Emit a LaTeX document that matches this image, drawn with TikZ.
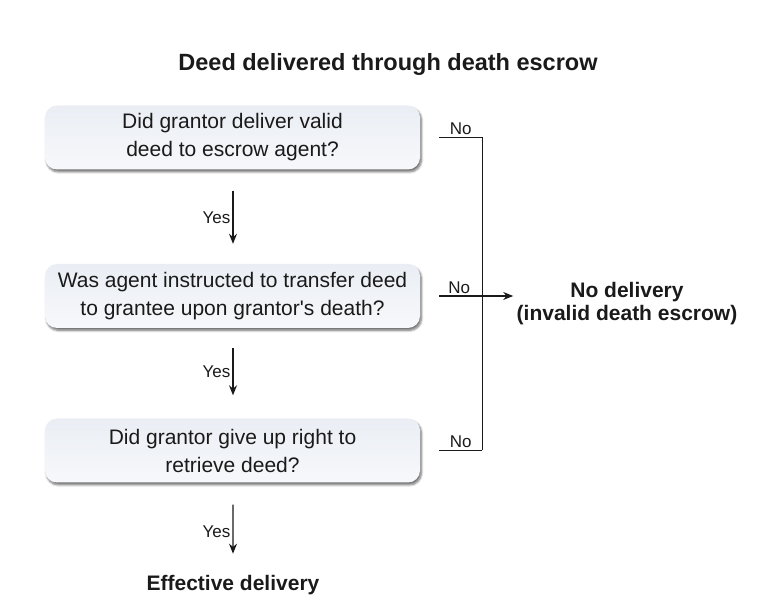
\documentclass[tikz,border=0pt]{standalone}
\usepackage{fontspec}
\setmainfont{Liberation Sans}
\usepackage{xcolor}
\usetikzlibrary{shadows.blur,arrows.meta}
\definecolor{boxtop}{HTML}{EAEEF4}
\definecolor{boxbot}{HTML}{F7F8FB}
\definecolor{ink}{HTML}{1A1A1A}
\tikzset{question/.style={rounded corners=12bp, minimum width=375bp, minimum height=64bp,
  top color=boxtop, bottom color=boxbot, align=center, text=ink,
  font=\fontsize{21bp}{28bp}\selectfont,
  blur shadow={shadow xshift=1.5bp, shadow yshift=-2.5bp, shadow opacity=55, shadow blur steps=6}}}
\tikzset{result/.style={align=center, text=ink, font=\fontsize{21bp}{23bp}\selectfont\bfseries}}
\tikzset{yes/.style={-{Stealth[length=10bp, width=8bp]}, line width=1.3bp, draw=ink}}
\tikzset{nolab/.style={text=ink, font=\fontsize{17bp}{19bp}\selectfont, inner sep=2bp}}
\tikzset{nolink/.style={line width=1.3bp, draw=ink}}

\begin{document}
\begin{tikzpicture}[x=1bp, y=1bp]
\useasboundingbox (0,0) rectangle (763,607);

\node [text=ink, font=\fontsize{23.5bp}{26bp}\selectfont\bfseries] (title) at (388, 543) {Deed delivered through death escrow};

\node [question] (q1) at (232.5, 469.5) {Did grantor deliver valid\\deed to escrow agent?};
\node [question] (q2) at (232.5, 311) {Was agent instructed to transfer deed\\to grantee upon grantor\textquotesingle s death?};
\node [question] (q3) at (232.5, 156.5) {Did grantor give up right to\\retrieve deed?};

\node [result] (eff) at (233, 22) {Effective delivery};
\node [result] (nodel) at (627, 303) {No delivery\\(invalid death escrow)};

\draw [yes] ([xshift=.5bp, yshift=-21bp]q1.south) -- node [nolab, left] {Yes} ([xshift=.5bp, yshift=20bp]q2.north);
\draw [yes] ([xshift=.5bp, yshift=-20bp]q2.south) -- node [nolab, left] {Yes} ([xshift=.5bp, yshift=23bp]q3.north);
\draw [yes, shorten >=18bp] ([xshift=.5bp, yshift=-22bp]q3.south) -- node [nolab, left, pos=.4] {Yes} (eff);

\coordinate (j1) at ([xshift=62bp]q1.east);
\coordinate (j3) at ([xshift=62bp]q3.east);
\draw [nolink] ([xshift=19bp]q1.east) -- node [nolab, above] {No} (j1) -- (j3);
\draw [nolink] (j3) -- node [nolab, above] {No} ([xshift=19bp]q3.east);
\draw [yes] ([xshift=19bp]q2.east) -- node [nolab, above, pos=.27] {No} (nodel.west |- q2.east);
\end{tikzpicture}
\end{document}
